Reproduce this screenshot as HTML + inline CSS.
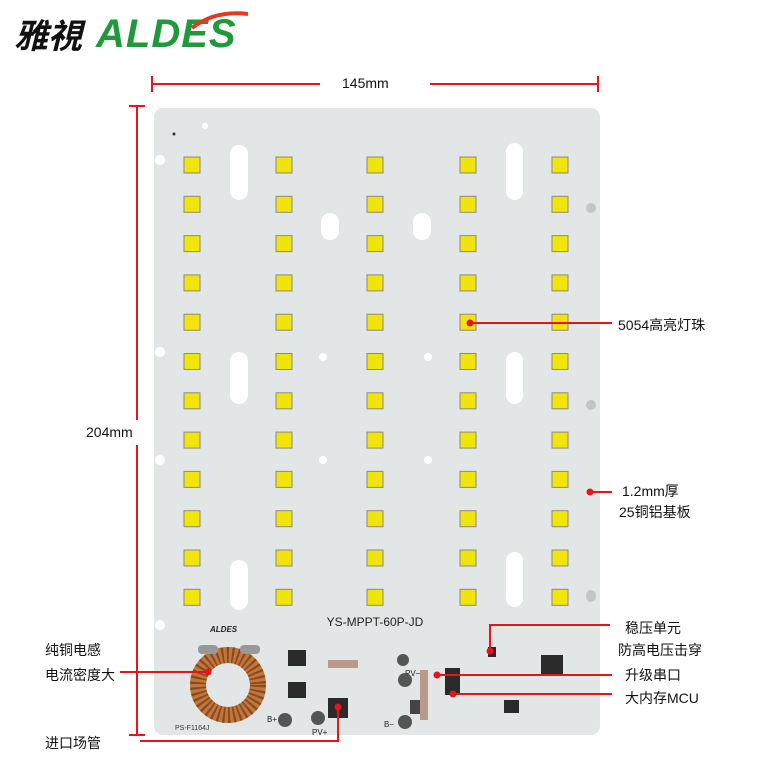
<!DOCTYPE html>
<html><head><meta charset="utf-8"><style>
body{margin:0;width:770px;height:770px;background:#fff;position:relative;overflow:hidden;font-family:"Liberation Sans","Noto Sans CJK SC",sans-serif}
.a{position:absolute}
.t{position:absolute;font-size:14px;color:#111;white-space:nowrap}
</style></head><body>
<div class="a" style="left:14px;top:14px;font-size:34px;font-weight:bold;font-style:italic;color:#111;font-family:'Noto Sans CJK SC',sans-serif;line-height:40px">雅視</div>
<div class="a" style="left:96px;top:12px;font-size:40px;font-weight:bold;font-style:italic;color:#1f9a3a;line-height:44px;letter-spacing:1px">ALDES</div>
<svg class="a" style="left:190px;top:10px" width="60" height="20"><path d="M2 18 Q25 0 58 4" stroke="#e53a1f" stroke-width="4" fill="none"/></svg>
<svg class="a" style="left:0;top:0" width="770" height="770">
<g stroke="#e8141c" stroke-width="2" fill="#e8141c">
<line x1="152" y1="84" x2="320" y2="84"/><line x1="430" y1="84" x2="598" y2="84"/>
<line x1="152" y1="76" x2="152" y2="92"/><line x1="598" y1="76" x2="598" y2="92"/>
<line x1="137" y1="106" x2="137" y2="420"/><line x1="137" y1="445" x2="137" y2="735"/>
<line x1="129" y1="106" x2="145" y2="106"/><line x1="129" y1="735" x2="145" y2="735"/>
</g>
<rect x="154" y="108" width="446" height="627" rx="9" fill="#e3e6e6"/>
<circle cx="160" cy="160" r="5" fill="#fff"/><circle cx="160" cy="352" r="5" fill="#fff"/><circle cx="160" cy="460" r="5" fill="#fff"/><circle cx="160" cy="625" r="5" fill="#fff"/>
<circle cx="205" cy="126" r="3" fill="#fff"/><circle cx="174" cy="134" r="1.5" fill="#333"/>
<g fill="#fff">
<rect x="230" y="145" width="18" height="55" rx="9"/><rect x="506" y="143" width="17" height="57" rx="8.5"/>
<rect x="230" y="352" width="18" height="52" rx="9"/><rect x="506" y="352" width="17" height="52" rx="8.5"/>
<rect x="230" y="560" width="18" height="50" rx="9"/><rect x="506" y="552" width="17" height="55" rx="8.5"/>
<rect x="321" y="213" width="18" height="27" rx="9"/><rect x="413" y="213" width="18" height="27" rx="9"/>
<circle cx="323" cy="357" r="4"/><circle cx="428" cy="357" r="4"/><circle cx="323" cy="460" r="4"/><circle cx="428" cy="460" r="4"/>
</g>
<g fill="#c4c6c6"><circle cx="591" cy="208" r="5"/><circle cx="591" cy="405" r="5"/><circle cx="591" cy="597" r="5"/><circle cx="591" cy="595" r="5"/></g>
<g id="leds" fill="#f1e40a" stroke="#8a8a80" stroke-width="1">
</g>
<text x="375" y="626" font-size="12" font-family="Liberation Sans" text-anchor="middle" fill="#222">YS-MPPT-60P-JD</text>
<text x="210" y="632" font-size="8" font-style="italic" font-weight="bold" fill="#222">ALDES</text>
<text x="175" y="730" font-size="7" fill="#333">PS-F1164J</text>
<text x="267" y="722" font-size="8" fill="#222">B+</text><text x="312" y="735" font-size="8" fill="#222">PV+</text>
<text x="384" y="727" font-size="8" fill="#222">B−</text><text x="405" y="676" font-size="8" fill="#222">PV−</text>
<g fill="#555"><circle cx="285" cy="720" r="7"/><circle cx="318" cy="718" r="7"/><circle cx="405" cy="722" r="7"/><circle cx="405" cy="680" r="7"/><circle cx="403" cy="660" r="6"/></g>
<circle cx="228" cy="685" r="30" fill="none" stroke="#c0763e" stroke-width="16"/>
<circle cx="228" cy="685" r="30" fill="none" stroke="#8a4a1c" stroke-width="16" stroke-dasharray="2 3"/>
<rect x="198" y="645" width="20" height="9" rx="4" fill="#999"/><rect x="240" y="645" width="20" height="9" rx="4" fill="#999"/>
<g fill="#2a2a2a">
<rect x="288" y="650" width="18" height="16"/><rect x="288" y="682" width="18" height="16"/><rect x="328" y="698" width="20" height="20"/>
<rect x="541" y="655" width="22" height="20"/><rect x="445" y="668" width="15" height="27"/><rect x="488" y="647" width="8" height="10"/><rect x="504" y="700" width="15" height="13"/>
<rect x="328" y="660" width="30" height="8" fill="#b98"/><rect x="420" y="670" width="8" height="50" fill="#b98"/><rect x="410" y="700" width="10" height="14" fill="#444"/>
</g>
<g stroke="#e8141c" stroke-width="2" fill="none">
<polyline points="470,323 612,323"/><polyline points="590,492 612,492"/>
<polyline points="490,651 490,625 610,625"/><polyline points="437,675 612,675"/><polyline points="453,694 612,694"/>
<polyline points="120,672 208,672"/><polyline points="140,741 338,741 338,707"/>
</g>
<g fill="#e8141c"><circle cx="470" cy="323" r="3.5"/><circle cx="590" cy="492" r="3.5"/><circle cx="490" cy="651" r="3.5"/><circle cx="437" cy="675" r="3.5"/><circle cx="453" cy="694" r="3.5"/><circle cx="208" cy="672" r="3.5"/><circle cx="338" cy="707" r="3.5"/></g>
</svg>
<div class="t" style="left:342px;top:75px">145mm</div>
<div class="t" style="left:86px;top:424px">204mm</div>
<div class="t" style="left:618px;top:315px">5054高亮灯珠</div>
<div class="t" style="left:622px;top:481px">1.2mm厚</div>
<div class="t" style="left:619px;top:502px">25铜铝基板</div>
<div class="t" style="left:625px;top:618px">稳压单元</div>
<div class="t" style="left:618px;top:640px">防高电压击穿</div>
<div class="t" style="left:625px;top:665px">升级串口</div>
<div class="t" style="left:625px;top:688px">大内存MCU</div>
<div class="t" style="left:45px;top:640px">纯铜电感</div>
<div class="t" style="left:45px;top:665px">电流密度大</div>
<div class="t" style="left:45px;top:733px">进口场管</div>
<script>
var g=document.getElementById('leds'),s='';
[192,284,375,468,560].forEach(function(x){for(var i=0;i<12;i++){var y=165+i*39.3;s+='<rect x="'+(x-8)+'" y="'+(y-8).toFixed(1)+'" width="16" height="16"/>';}});
g.innerHTML=s;
</script>
</body></html>
